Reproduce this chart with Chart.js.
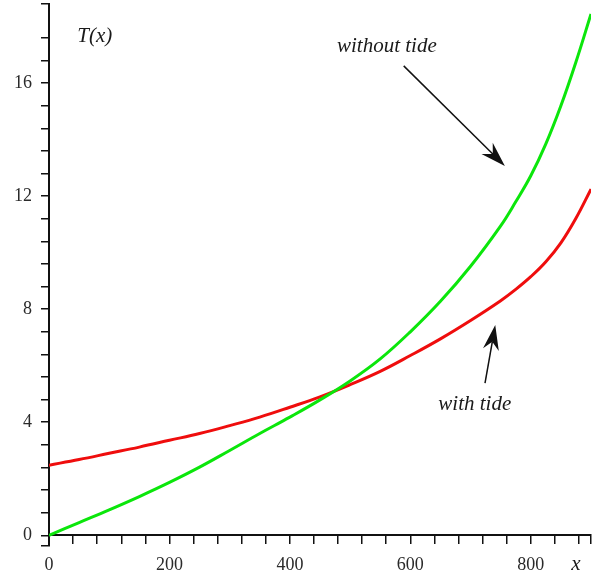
<!DOCTYPE html>
<html>
<head>
<meta charset="utf-8">
<script src="https://cdn.jsdelivr.net/npm/chart.js@4.4.1/dist/chart.umd.min.js"></script>
<style>
  body { margin: 0; background: #fff; }
  #wrap { width: 592px; height: 575px; }
</style>
</head>
<body>
<div id="wrap"><canvas id="tChart" width="592" height="575"></canvas></div>
<script>
const xValues = [0, 50, 100, 150, 200, 250, 300, 350, 400, 450, 500, 550, 600, 650, 700, 750, 775, 800, 825, 850, 875, 900];
// T(x) without tide (green)
const withoutTide = [0, 0.45, 0.9, 1.37, 1.87, 2.41, 3.0, 3.6, 4.18, 4.79, 5.46, 6.24, 7.2, 8.28, 9.52, 10.95, 11.8, 12.72, 13.85, 15.2, 16.75, 18.45];
// T(x) with tide (red)
const withTide = [2.48, 2.68, 2.9, 3.12, 3.36, 3.6, 3.88, 4.18, 4.53, 4.9, 5.33, 5.8, 6.36, 6.95, 7.6, 8.3, 8.7, 9.15, 9.68, 10.35, 11.22, 12.25];

// labelled ticks and minor steps
const xLabels = [0, 200, 400, 600, 800];
const yLabels = [0, 4, 8, 12, 16];
const xStep = 40, xMax = 900;
const yStep = 0.8, yMin = -0.38, yMax = 18.8;

// text annotations and arrows, in data units
const notes = [
    { text: 'T(x)', x: 76, y: 17.64 },
    { text: 'without tide', x: 561, y: 17.3 },
    { text: 'with tide', x: 707, y: 4.64 }
];
const arrows = [
    { from: [589, 16.61], to: [757, 13.07] },
    { from: [724, 5.38], to: [741, 7.44] }
];

const toPoints = (ys) => xValues.map((x, i) => ({ x: x, y: ys[i] }));

function drawArrow(ctx, x1, y1, x2, y2) {
    const ang = Math.atan2(y2 - y1, x2 - x1);
    const len = 25, half = 8, notch = 17;
    const c = Math.cos(ang), s = Math.sin(ang);
    ctx.beginPath();
    ctx.moveTo(x1, y1);
    ctx.lineTo(x2 - notch * c, y2 - notch * s);
    ctx.lineWidth = 1.5;
    ctx.strokeStyle = '#111';
    ctx.stroke();
    ctx.beginPath();
    ctx.moveTo(x2, y2);
    ctx.lineTo(x2 - len * c + half * s, y2 - len * s - half * c);
    ctx.lineTo(x2 - notch * c, y2 - notch * s);
    ctx.lineTo(x2 - len * c - half * s, y2 - len * s + half * c);
    ctx.closePath();
    ctx.fillStyle = '#111';
    ctx.fill();
}

const annotate = {
    id: 'annotate',
    afterDraw(chart) {
        const ctx = chart.ctx;
        const xs = chart.scales.x, ys = chart.scales.y;
        ctx.save();
        ctx.font = 'italic 21px "Liberation Serif", "DejaVu Serif", serif';
        ctx.fillStyle = '#1a1a1a';
        ctx.textAlign = 'center';
        ctx.textBaseline = 'middle';
        notes.forEach(n => ctx.fillText(n.text, xs.getPixelForValue(n.x), ys.getPixelForValue(n.y)));
        // axis name at the right end of the x axis
        ctx.fillText('x', xs.right - 15, ys.getPixelForValue(0) + 29);
        arrows.forEach(a => drawArrow(ctx,
            xs.getPixelForValue(a.from[0]), ys.getPixelForValue(a.from[1]),
            xs.getPixelForValue(a.to[0]), ys.getPixelForValue(a.to[1])));
        ctx.restore();
    }
};

function isLabel(v, list) {
    return list.some(l => Math.abs(l - v) < 1e-6);
}

function noPadding(scale) {
    scale.paddingTop = 0;
    scale.paddingBottom = 0;
    scale.paddingLeft = 0;
    scale.paddingRight = 0;
}

function createChart() {
    const ctx = document.getElementById('tChart').getContext('2d');
    const tickFont = { family: '"Liberation Serif", "DejaVu Serif", serif', size: 18 };

    new Chart(ctx, {
        type: 'line',
        data: {
            datasets: [{
                label: 'without tide',
                data: toPoints(withoutTide),
                borderColor: '#0be60b',
                borderWidth: 3,
                pointRadius: 0,
                tension: 0.4,
                fill: false
            }, {
                label: 'with tide',
                data: toPoints(withTide),
                borderColor: '#ef0d0d',
                borderWidth: 3,
                pointRadius: 0,
                tension: 0.4,
                fill: false
            }]
        },
        options: {
            responsive: false,
            animation: false,
            // the x axis sits at y = 0 and takes no layout room, so keep space for its labels here
            layout: { padding: { top: 4, right: 1, left: 0, bottom: 29 } },
            plugins: { legend: { display: false }, tooltip: { enabled: false } },
            scales: {
                x: {
                    type: 'linear',
                    position: { y: 0 },
                    min: 0,
                    max: xMax,
                    afterBuildTicks: (scale) => {
                        const t = [];
                        for (let v = 0; v < xMax; v += xStep) t.push({ value: v });
                        t.push({ value: xMax });
                        scale.ticks = t;
                    },
                    afterFit: (scale) => { noPadding(scale); },
                    ticks: {
                        autoSkip: false,
                        maxRotation: 0,
                        color: '#2a2a2a',
                        font: tickFont,
                        padding: 11,
                        callback: (v) => isLabel(v, xLabels) ? String(v) : ''
                    },
                    grid: { drawOnChartArea: false, drawTicks: true, tickLength: 8, color: '#111', lineWidth: 1.5 },
                    border: { display: true, color: '#111', width: 2 }
                },
                y: {
                    type: 'linear',
                    position: 'left',
                    min: yMin,
                    max: yMax,
                    afterBuildTicks: (scale) => {
                        const t = [{ value: yMin }];
                        for (let i = 0; i * yStep < yMax - 0.5; i++) t.push({ value: Math.round(i * yStep * 10) / 10 });
                        t.push({ value: yMax });
                        scale.ticks = t;
                    },
                    afterFit: (scale) => { scale.width = 49; noPadding(scale); },
                    ticks: {
                        autoSkip: false,
                        color: '#2a2a2a',
                        font: tickFont,
                        padding: 9,
                        callback: (v) => isLabel(v, yLabels) ? String(v) : ''
                    },
                    grid: { drawOnChartArea: false, drawTicks: true, tickLength: 8, color: '#111', lineWidth: 1.5 },
                    border: { display: true, color: '#111', width: 2 }
                }
            }
        },
        plugins: [annotate]
    });
}

document.addEventListener('DOMContentLoaded', createChart);
</script>
</body>
</html>
